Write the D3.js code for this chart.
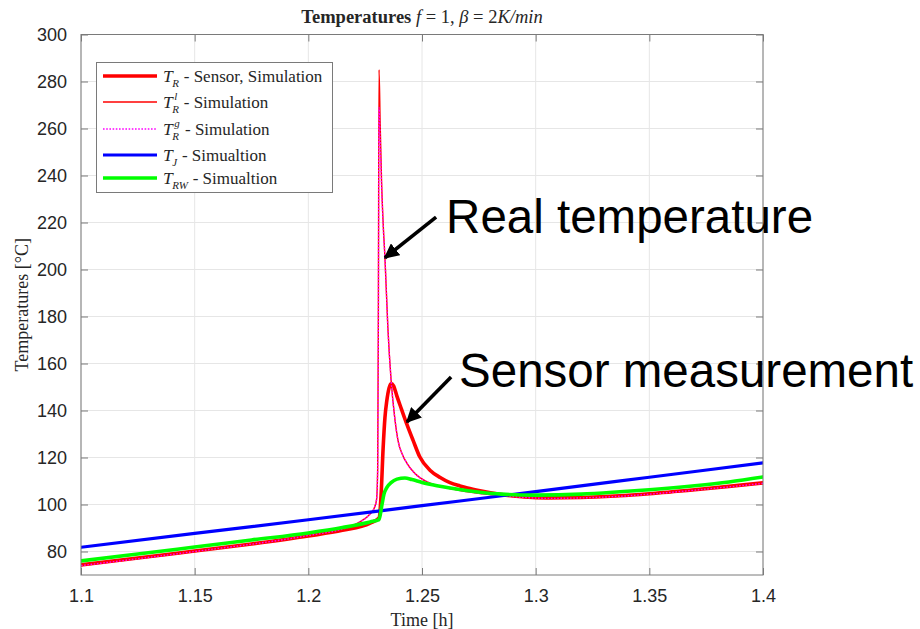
<!DOCTYPE html>
<html>
<head>
<meta charset="utf-8">
<script src="https://cdn.jsdelivr.net/npm/d3@7"></script>
<style>
  body { margin: 0; background: #fff; }
  svg { display: block; }
</style>
</head>
<body>
<svg id="chart" width="920" height="629"></svg>
<script>
// ---- Axis ticks ----
const xTicks = [1.1, 1.15, 1.2, 1.25, 1.3, 1.35, 1.4];
const yTicks = [80, 100, 120, 140, 160, 180, 200, 220, 240, 260, 280, 300];

// ---- T_R : sensor reading (simulation) ----
const tSensor = [1.100, 1.125, 1.150, 1.175, 1.200, 1.215, 1.2272, 1.2311, 1.2320, 1.2329,
                 1.2337, 1.2345, 1.2355, 1.2364, 1.2375, 1.2390, 1.2410, 1.2434, 1.2460, 1.2490,
                 1.2535, 1.2580, 1.2623, 1.2667, 1.2700, 1.2755, 1.2850, 1.2950, 1.3050, 1.3200,
                 1.3370, 1.3500, 1.3700, 1.3850, 1.4000];
const sensorTemp = [74.3, 77.2, 80.2, 83.2, 86.6, 89.0, 92.1, 94.3, 104.0, 124.0,
                    137.0, 144.0, 149.5, 151.5, 150.5, 146.0, 140.5, 134.0, 127.5, 120.3,
                    114.6, 111.5, 109.3, 107.9, 107.0, 105.8, 104.2, 103.2, 102.8, 103.0,
                    103.7, 104.6, 106.3, 107.7, 109.2];

// ---- T_R^l and T_R^g : liquid / gas phase (simulation) ----
const tPhase = [1.100, 1.150, 1.200, 1.215, 1.2227, 1.2272, 1.2290, 1.2300, 1.2305, 1.2308,
                1.2311, 1.2316, 1.2322, 1.2329, 1.2337, 1.2350, 1.2364, 1.2380, 1.2395, 1.2415,
                1.2434, 1.2469, 1.2522, 1.2570, 1.2623, 1.2755, 1.2850, 1.2950, 1.3050, 1.3200,
                1.3370, 1.3500, 1.3700, 1.3850, 1.4000];
const liquidTemp = [74.0, 80.0, 86.8, 89.6, 92.6, 96.0, 98.5, 102.0, 115.0, 180.0,
                    285.0, 262.0, 238.0, 220.0, 205.0, 175.0, 153.0, 137.0, 127.0, 121.0,
                    117.5, 113.2, 109.6, 108.0, 106.8, 104.7, 103.8, 103.0, 102.6, 102.8,
                    103.5, 104.4, 106.1, 107.5, 109.0];
const gasTemp = [74.0, 80.0, 86.8, 89.6, 92.6, 96.0, 98.5, 102.0, 115.0, 175.0,
                 269.0, 255.0, 236.0, 219.0, 205.0, 175.0, 153.0, 137.0, 127.0, 121.0,
                 117.5, 113.2, 109.6, 108.0, 106.8, 104.7, 103.8, 103.0, 102.6, 102.8,
                 103.5, 104.4, 106.1, 107.5, 109.0];

// ---- T_J : jacket ----
const tJacket = [1.10, 1.15, 1.20, 1.25, 1.30, 1.35, 1.40];
const jacketTemp = [81.8, 87.7, 93.5, 99.5, 105.5, 111.6, 117.7];

// ---- T_RW : reactor wall ----
const tWall = [1.100, 1.125, 1.150, 1.175, 1.200, 1.215, 1.2272, 1.2311, 1.2324, 1.2333,
               1.2345, 1.2364, 1.2390, 1.2425, 1.2456, 1.2500, 1.2566, 1.2623, 1.2755, 1.2850,
               1.3000, 1.3200, 1.3370, 1.3500, 1.3700, 1.3850, 1.4000];
const wallTemp = [76.0, 78.9, 81.9, 84.9, 87.9, 90.2, 92.6, 93.6, 100.0, 104.5,
                  107.2, 109.3, 110.8, 111.3, 110.6, 109.4, 108.0, 107.0, 105.2, 104.4,
                  104.0, 104.4, 105.4, 106.3, 108.0, 109.6, 111.7];

// ---- Annotations (data coordinates) ----
const annoText = ["Real temperature", "Sensor measurement"];
const annoTextPos = [[1.2606, 215.5], [1.2663, 150.0]];
const arrowFrom = [[1.2562, 222.3], [1.2628, 154.3]];
const arrowTo = [[1.2337, 205.0], [1.2434, 135.1]];

const svg = d3.select("#chart");
const W = 920, H = 629;
const plot = { left: 81, right: 763, top: 34.5, bottom: 575 };

const x = d3.scaleLinear().domain([1.1, 1.4]).range([plot.left, plot.right]);
const y = d3.scaleLinear().domain([70, 300]).range([plot.bottom, plot.top]);

svg.append("rect").attr("width", W).attr("height", H).attr("fill", "#fff");

// grid
const grid = svg.append("g");
grid.selectAll("line.gx").data(xTicks).join("line")
  .attr("x1", d => x(d)).attr("x2", d => x(d))
  .attr("y1", plot.top).attr("y2", plot.bottom)
  .attr("stroke", "#e6e6e6").attr("stroke-width", 1);
grid.selectAll("line.gy").data(yTicks).join("line")
  .attr("x1", plot.left).attr("x2", plot.right)
  .attr("y1", d => y(d)).attr("y2", d => y(d))
  .attr("stroke", "#e6e6e6").attr("stroke-width", 1);

// axes (ticks inward, labels via d3 axes)
const tickLen = 7;
const xAxis = d3.axisBottom(x).tickValues(xTicks).tickFormat(d3.format("~g"))
  .tickSizeInner(-tickLen).tickSizeOuter(0).tickPadding(14);
const yAxis = d3.axisLeft(y).tickValues(yTicks).tickFormat(d3.format("d"))
  .tickSizeInner(-tickLen).tickSizeOuter(0).tickPadding(14);

const gx = svg.append("g").attr("transform", `translate(0,${plot.bottom})`).call(xAxis);
const gy = svg.append("g").attr("transform", `translate(${plot.left},0)`).call(yAxis);
// ticks mirrored on top / right edges
const gxTop = svg.append("g").attr("transform", `translate(0,${plot.top})`)
  .call(d3.axisTop(x).tickValues(xTicks).tickFormat("").tickSizeInner(-tickLen).tickSizeOuter(0));
const gyRight = svg.append("g").attr("transform", `translate(${plot.right},0)`)
  .call(d3.axisRight(y).tickValues(yTicks).tickFormat("").tickSizeInner(-tickLen).tickSizeOuter(0));

[gx, gy, gxTop, gyRight].forEach(g => {
  g.select(".domain").remove();
  g.selectAll(".tick line").attr("stroke", "#7a7a7a").attr("stroke-width", 1);
  g.selectAll(".tick text")
    .attr("fill", "#262626")
    .attr("font-family", "'Liberation Sans', Arial, sans-serif")
    .attr("font-size", 18);
});
gx.selectAll(".tick text").attr("dy", "0.71em");

// data lines, clipped to the plot area
svg.append("clipPath").attr("id", "plotClip").append("rect")
  .attr("x", plot.left).attr("y", plot.top)
  .attr("width", plot.right - plot.left).attr("height", plot.bottom - plot.top);
const lines = svg.append("g").attr("clip-path", "url(#plotClip)");

function drawSeries(ts, vs, color, width, dash) {
  const pts = ts.map((t, i) => [t, vs[i]]);
  const line = d3.line().x(d => x(d[0])).y(d => y(d[1])).curve(d3.curveMonotoneX);
  const p = lines.append("path").datum(pts)
    .attr("d", line).attr("fill", "none")
    .attr("stroke", color).attr("stroke-width", width)
    .attr("stroke-linejoin", "round").attr("stroke-linecap", "round");
  if (dash) p.attr("stroke-dasharray", dash).attr("stroke-linecap", "butt");
}

drawSeries(tSensor, sensorTemp, "#ff0000", 3.6);
drawSeries(tPhase, liquidTemp, "#ff0000", 1.4);
drawSeries(tPhase, gasTemp, "#ff00ff", 1.4, "1.6,1.6");
drawSeries(tJacket, jacketTemp, "#0000ff", 3.2);
drawSeries(tWall, wallTemp, "#00ff00", 3.6);

// plot frame
svg.append("rect")
  .attr("x", plot.left).attr("y", plot.top)
  .attr("width", plot.right - plot.left).attr("height", plot.bottom - plot.top)
  .attr("fill", "none").attr("stroke", "#7a7a7a").attr("stroke-width", 1);

// axis titles
const serif = "'Liberation Serif', 'Times New Roman', serif";
svg.append("text")
  .attr("x", (plot.left + plot.right) / 2).attr("y", 626)
  .attr("text-anchor", "middle")
  .attr("font-family", serif).attr("font-size", 18).attr("fill", "#262626")
  .text("Time [h]");
svg.append("text")
  .attr("transform", `translate(28,${(plot.top + plot.bottom) / 2}) rotate(-90)`)
  .attr("text-anchor", "middle")
  .attr("font-family", serif).attr("font-size", 18).attr("fill", "#262626")
  .text("Temperatures [°C]");

// title
const title = svg.append("text")
  .attr("x", (plot.left + plot.right) / 2).attr("y", 23)
  .attr("text-anchor", "middle")
  .attr("font-family", serif).attr("font-size", 18.5).attr("fill", "#262626")
  .attr("xml:space", "preserve").style("white-space", "pre");
title.append("tspan").attr("font-weight", "bold").text("Temperatures ");
title.append("tspan").attr("font-style", "italic").text("f");
title.append("tspan").text(" = 1, ");
title.append("tspan").attr("font-style", "italic").text("β");
title.append("tspan").text(" = 2");
title.append("tspan").attr("font-style", "italic").text("K/min");

// legend
const legendItems = [
  { sub: "R", sup: "", desc: " - Sensor, Simulation" },
  { sub: "R", sup: "l", desc: " - Simulation" },
  { sub: "R", sup: "g", desc: " - Simulation" },
  { sub: "J", sup: "", desc: " - Simualtion" },
  { sub: "RW", sup: "", desc: " - Simualtion" }
];
const legendStyle = [
  { color: "#ff0000", width: 3.6 },
  { color: "#ff0000", width: 1.4 },
  { color: "#ff00ff", width: 1.6, dash: "1.6,1.6" },
  { color: "#0000ff", width: 3.2 },
  { color: "#00ff00", width: 3.6 }
];
const legendRowY = [76, 102, 129, 155, 178];
const legend = svg.append("g");
legend.append("rect")
  .attr("x", 96.5).attr("y", 62.5).attr("width", 236).attr("height", 130)
  .attr("fill", "#fff").attr("stroke", "#7a7a7a").attr("stroke-width", 1);

// width helper for laying out sub/superscripts inside one text element
const measurer = svg.append("text").attr("font-family", serif).attr("visibility", "hidden");
function textWidth(s, size, italic) {
  measurer.attr("font-size", size).attr("font-style", italic ? "italic" : "normal").text(s);
  return measurer.node().getComputedTextLength();
}

const scriptSize = 11;
legendItems.forEach((it, i) => {
  const cy = legendRowY[i];
  const st = legendStyle[i];
  const ln = legend.append("line")
    .attr("x1", 103).attr("x2", 157).attr("y1", cy).attr("y2", cy)
    .attr("stroke", st.color).attr("stroke-width", st.width);
  if (st.dash) ln.attr("stroke-dasharray", st.dash);
  const x0 = 163, base = cy + 6;
  const wT = textWidth("T", 17.5, true);
  const wSub = textWidth(it.sub, scriptSize, true);
  const wSup = it.sup ? textWidth(it.sup, scriptSize, true) + 2 : 0;
  const lbl = legend.append("text").attr("x", x0).attr("y", base)
    .attr("font-family", serif).attr("fill", "#262626")
    .attr("xml:space", "preserve").style("white-space", "pre");
  lbl.append("tspan").attr("font-size", 17.5).attr("font-style", "italic").text("T");
  if (it.sup) {
    lbl.append("tspan").attr("x", x0 + wT + 1.5).attr("y", base - 8)
      .attr("font-size", scriptSize).attr("font-style", "italic").text(it.sup);
  }
  lbl.append("tspan").attr("x", x0 + wT - 0.5).attr("y", base + 4.5)
    .attr("font-size", scriptSize).attr("font-style", "italic").text(it.sub);
  lbl.append("tspan").attr("x", x0 + Math.max(wT - 0.5 + wSub, wT + wSup) + 0.5).attr("y", base)
    .attr("font-size", 17).text(it.desc);
});
measurer.remove();

// annotations
const defs = svg.append("defs");
defs.append("marker").attr("id", "arrowHead")
  .attr("viewBox", "0 0 10 10").attr("refX", 9).attr("refY", 5)
  .attr("markerWidth", 4.2).attr("markerHeight", 4.2)
  .attr("markerUnits", "strokeWidth").attr("orient", "auto")
  .append("path").attr("d", "M0,0 L10,5 L0,10 Z").attr("fill", "#000");

arrowFrom.forEach((f, i) => {
  const t = arrowTo[i];
  svg.append("line")
    .attr("x1", x(f[0])).attr("y1", y(f[1]))
    .attr("x2", x(t[0])).attr("y2", y(t[1]))
    .attr("stroke", "#000").attr("stroke-width", 3.6)
    .attr("marker-end", "url(#arrowHead)");
});
annoText.forEach((s, i) => {
  svg.append("text")
    .attr("x", x(annoTextPos[i][0])).attr("y", y(annoTextPos[i][1]))
    .attr("font-family", "'Liberation Sans', Arial, sans-serif")
    .attr("font-size", 47.5).attr("fill", "#000")
    .text(s);
});
</script>
</body>
</html>
